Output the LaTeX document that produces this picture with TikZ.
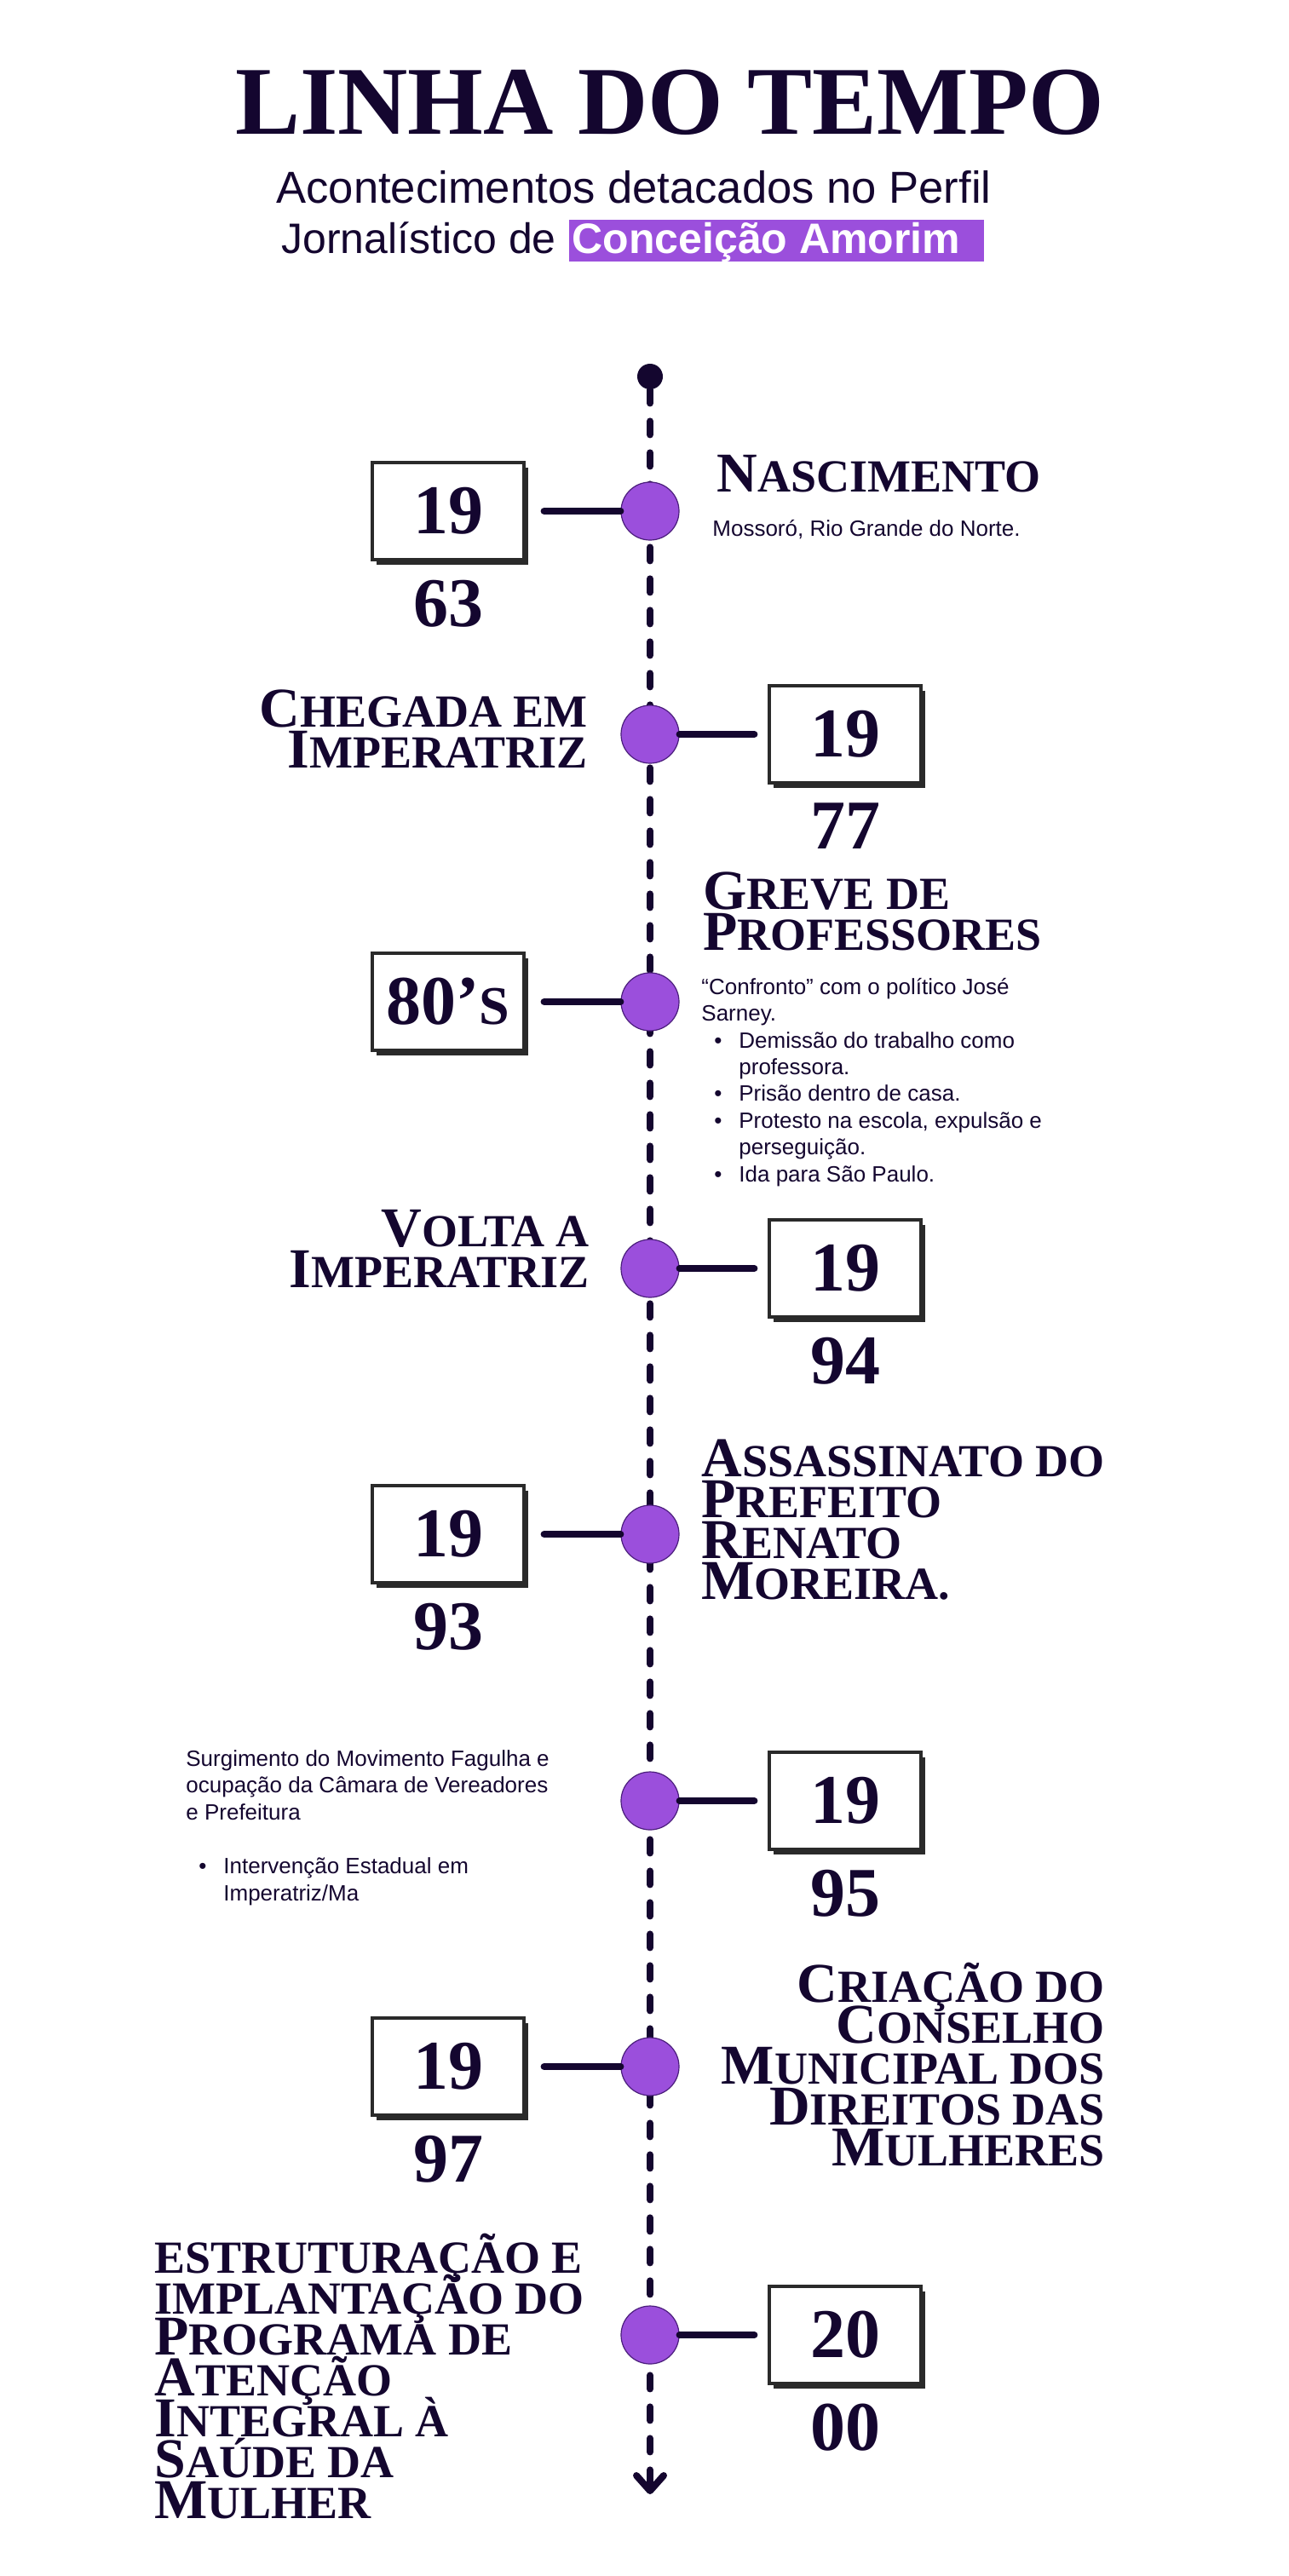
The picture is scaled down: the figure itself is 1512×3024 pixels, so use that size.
\documentclass[tikz,border=0pt]{standalone}
\usepackage{fontspec}
\setmainfont{Liberation Serif}
\setsansfont{Liberation Sans}
\usetikzlibrary{positioning,arrows.meta,shadows}

\definecolor{ink}{HTML}{14062F}
\definecolor{lilac}{HTML}{9B4FDC}
\definecolor{lilacdark}{HTML}{4B1E7C}
\definecolor{boxline}{HTML}{2A2A2A}

\newcommand\headfont{\bfseries\fontsize{33}{24}\selectfont\lineskiplimit=-40pt\relax}
\newcommand\capsm[1]{{\fontsize{27}{24}\selectfont #1}}
\newcommand\yrsm[1]{{\fontsize{32}{32}\selectfont #1}}
\newcommand\itm{\makebox[22pt][r]{\textbullet\hspace{10pt}}}
\newcommand\cnt{\hspace*{22pt}}

\begin{document}
\begin{tikzpicture}[x=.5pt,y=-.5pt,
    heading/.style={inner sep=0pt,text=ink,font=\headfont},
    note/.style={inner sep=0pt,text=ink,align=left,font=\sffamily\fontsize{13}{15.7}\selectfont},
    dot/.style={circle,minimum size=34pt,inner sep=0pt,fill=lilac,draw=lilacdark,line width=.6pt},
    year/.style={draw=boxline,line width=1.6pt,fill=white,minimum width=89pt,minimum height=57pt,inner sep=0pt,
      text=ink,font=\bfseries\fontsize{41}{41}\selectfont,
      general shadow={fill=boxline,shadow xshift=2.5pt,shadow yshift=-3pt}},
    yeartail/.style={inner sep=0pt,text=ink,font=\bfseries\fontsize{41}{41}\selectfont},
    stem/.style={line width=4pt,ink,line cap=round},
    spine/.style={line width=4pt,ink,line cap=round,dash pattern=on 8pt off 10.5pt}]

\useasboundingbox[fill=white] (0,0) rectangle (1512,3024);

\node[inner sep=0pt,text=ink,font=\bfseries\fontsize{57}{57}\selectfont] (title) at (786,120) {LINHA DO TEMPO};
\node[anchor=base west,inner sep=0pt,text=ink,font=\sffamily\fontsize{26.3}{30}\selectfont] (sub1) at (324,238) {Acontecimentos detacados no Perfil};
\node[anchor=base west,inner sep=0pt,text=ink,font=\sffamily\fontsize{25}{30}\selectfont] (sub2) at (330,297) {Jornalístico de};
\node[anchor=base west,fill=lilac,text=white,font=\sffamily\bfseries\fontsize{25}{30}\selectfont,
      inner xsep=2pt,inner ysep=0pt,text height=19.5pt,text depth=5pt] (name) at ([xshift=7pt]sub2.base east) {Conceição Amorim\rule{12pt}{0pt}};

\node[circle,fill=ink,minimum size=15pt,inner sep=0pt] (top) at (763,442) {};
\coordinate (bottom) at (763,2928);
\draw[spine,-{Straight Barb[length=9pt,width=16pt,round]}] (top) -- (bottom);

\node[dot] (e1) at (763,600) {};
\node[year] (y1) at (526,600) {19};
\node[yeartail,below=11pt of y1] (t1) {63};
\draw[stem,shorten <=11pt] (y1) -- (e1);
\node[heading,anchor=base west] (h1) at (841,577) {N\capsm{ASCIMENTO}};
\node[note,anchor=base west] (n1) at (836,629) {Mossoró, Rio Grande do Norte.};

\node[dot] (e2) at (763,862) {};
\node[year] (y2) at (992,862) {19};
\node[yeartail,below=11pt of y2] (t2) {77};
\draw[stem,shorten >=8pt] (e2) -- (y2);
\node[heading,anchor=base east,align=right] (h2) at (690,901) {C\capsm{HEGADA EM}\\I\capsm{MPERATRIZ}};

\node[dot] (e3) at (763,1176) {};
\node[year] (y3) at (526,1176) {80’\yrsm{S}};
\draw[stem,shorten <=11pt] (y3) -- (e3);
\node[heading,anchor=base west,align=left] (h3) at (825,1115) {G\capsm{REVE DE}\\P\capsm{ROFESSORES}};
\node[note,anchor=base west] (n3) at (823,1387) {“Confronto” com o político José\\
  Sarney.\\
  \itm Demissão do trabalho como\\
  \cnt professora.\\
  \itm Prisão dentro de casa.\\
  \itm Protesto na escola, expulsão e\\
  \cnt perseguição.\\
  \itm Ida para São Paulo.};

\node[dot] (e4) at (763,1489) {};
\node[year] (y4) at (992,1489) {19};
\node[yeartail,below=11pt of y4] (t4) {94};
\draw[stem,shorten >=8pt] (e4) -- (y4);
\node[heading,anchor=base east,align=right] (h4) at (692,1511) {V\capsm{OLTA A}\\I\capsm{MPERATRIZ}};

\node[dot] (e5) at (763,1801) {};
\node[year] (y5) at (526,1801) {19};
\node[yeartail,below=11pt of y5] (t5) {93};
\draw[stem,shorten <=11pt] (y5) -- (e5);
\node[heading,anchor=base west,align=left] (h5) at (823,1877) {A\capsm{SSASSINATO DO}\\P\capsm{REFEITO}\\R\capsm{ENATO}\\M\capsm{OREIRA.}};

\node[dot] (e6) at (763,2114) {};
\node[year] (y6) at (992,2114) {19};
\node[yeartail,below=11pt of y6] (t6) {95};
\draw[stem,shorten >=8pt] (e6) -- (y6);
\node[note,anchor=base west] (n6) at (218,2231) {Surgimento do Movimento Fagulha e\\
  ocupação da Câmara de Vereadores\\
  e Prefeitura\\[16pt]
  \itm Intervenção Estadual em\\
  \cnt Imperatriz/Ma};

\node[dot] (e7) at (763,2426) {};
\node[year] (y7) at (526,2426) {19};
\node[yeartail,below=11pt of y7] (t7) {97};
\draw[stem,shorten <=11pt] (y7) -- (e7);
\node[heading,anchor=base east,align=right] (h7) at (1297,2542) {C\capsm{RIAÇÃO DO}\\C\capsm{ONSELHO}\\M\capsm{UNICIPAL DOS}\\D\capsm{IREITOS DAS}\\M\capsm{ULHERES}};

\node[dot] (e8) at (763,2741) {};
\node[year] (y8) at (992,2741) {20};
\node[yeartail,below=11pt of y8] (t8) {00};
\draw[stem,shorten >=8pt] (e8) -- (y8);
\node[heading,anchor=base west,align=left] (h8) at (181,2956) {\capsm{ESTRUTURAÇÃO E}\\\capsm{IMPLANTAÇÃO DO}\\P\capsm{ROGRAMA DE}\\A\capsm{TENÇÃO}\\I\capsm{NTEGRAL À}\\S\capsm{AÚDE DA}\\M\capsm{ULHER}};
\end{tikzpicture}
\end{document}
